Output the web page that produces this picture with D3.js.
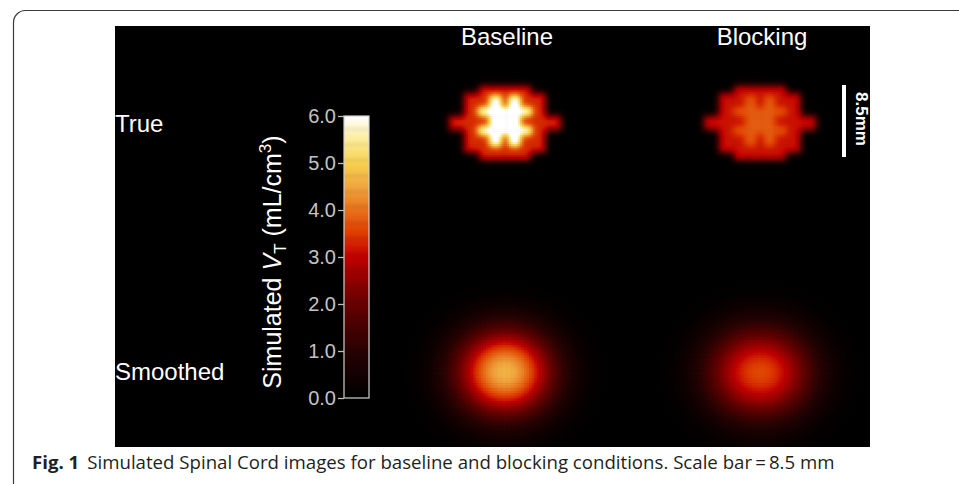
<!DOCTYPE html>
<html><head><meta charset="utf-8">
<script src="https://cdn.jsdelivr.net/npm/d3@7"></script>
<style>html,body{margin:0;padding:0;background:#fff;} svg{display:block;}</style>
</head><body>
<svg id="chart" width="959" height="484"></svg>
<script>
// ---------------- data ----------------
const columns = ["Baseline", "Blocking"];
const rowLabels = ["True", "Smoothed"];
// simulated spinal-cord phantom: '.' background, 'o' white-matter (outer), '#' grey-matter (inner)
const phantomRows = [
  "........oooooooooooooo........",
  "........oooooooooooooo........",
  "....oooooooooooooooooooooo....",
  "....ooooooo###oo###ooooooo....",
  "....ooooooo###oo###ooooooo....",
  "....ooooooo###oo###ooooooo....",
  "....oooo##############oooo....",
  "....oooo##############oooo....",
  "ooooooooooo########ooooooooooo",
  "ooooooooooo########ooooooooooo",
  "ooooooooooo########ooooooooooo",
  "oooooooo##############oooooooo",
  "....oooo##############oooo....",
  "....ooooooo###oo###ooooooo....",
  "....ooooooo###oo###ooooooo....",
  "....ooooooo###oo###ooooooo....",
  "....oooooooooooooooooooooo....",
  "....oooooooooooooooooooooo....",
  "........oooooooooooooo........",
  "........oooooooooooooo........"
];
const outerVT = [3.35, 3.15];      // true image, baseline / blocking (mL/cm3)
const innerVT = [6.5, 3.8];        // true image, baseline / blocking (mL/cm3)
const smoothedPeakVT = [4.65, 3.6]; // smoothed image peak, baseline / blocking (mL/cm3)
const colorStops = [0, 1, 2, 2.5, 3, 3.5, 4, 4.5, 5, 5.5, 6];
const stopColors = ["#000000", "#280303", "#660000", "#900000", "#c00000", "#de3c00",
                    "#e8721c", "#f0a640", "#f7d150", "#fcec9a", "#ffffff"];
const cbTicks = [0, 1, 2, 3, 4, 5, 6];
const scaleBarMm = 8.5;
const phantomCellMm = 0.45;
const trueBlurMm = 0.4;
const smoothSigmaMm = 2.8;
const captionBold = "Fig. 1";
const captionText = "Simulated Spinal Cord images for baseline and blocking conditions. Scale bar\u2009=\u20098.5 mm";

// ---------------- layout ----------------
const svg = d3.select("#chart");
const panel = {x: 115, y: 26, w: 755, h: 421};
const colX = d3.scaleOrdinal().domain(columns).range([505, 760]);
const rowY = d3.scaleOrdinal().domain(rowLabels).range([123, 373]);
const pxPerMm = d3.scaleLinear().domain([0, scaleBarMm]).range([0, 72]);
const color = d3.scaleLinear().domain(colorStops).range(stopColors).clamp(true);

// frame
svg.append("rect").attr("x", 13.5).attr("y", 10.5).attr("width", 1000).attr("height", 600)
  .attr("rx", 12).attr("fill", "none").attr("stroke", "#3c3c3c").attr("stroke-width", 1.2);

// black panel
svg.append("defs").append("clipPath").attr("id", "pclip").append("rect")
  .attr("x", panel.x).attr("y", panel.y).attr("width", panel.w).attr("height", panel.h);
svg.append("rect").attr("x", panel.x).attr("y", panel.y).attr("width", panel.w).attr("height", panel.h)
  .attr("fill", "#000");

// ---------------- image computation ----------------
const nCols = phantomRows[0].length, nRows = phantomRows.length;
const phW = nCols * phantomCellMm, phH = nRows * phantomCellMm;
function phantomValue(xmm, ymm, k) {
  const c = Math.floor((xmm + phW / 2) / phantomCellMm);
  const r = Math.floor((ymm + phH / 2) / phantomCellMm);
  if (c < 0 || r < 0 || c >= nCols || r >= nRows) return 0;
  const ch = phantomRows[r][c];
  return ch === "o" ? outerVT[k] : ch === "#" ? innerVT[k] : 0;
}
function makeImage(k, step, sigmaMm, peak) {
  const margin = sigmaMm * 3 + 0.6;
  const x0 = -phW / 2 - margin, y0 = -phH / 2 - margin;
  const nx = Math.ceil((phW + 2 * margin) / step), ny = Math.ceil((phH + 2 * margin) / step);
  let data = new Float64Array(nx * ny);
  const ss = 4;
  for (let j = 0; j < ny; j++) for (let i = 0; i < nx; i++) {
    let s = 0;
    for (let a = 0; a < ss; a++) for (let b = 0; b < ss; b++)
      s += phantomValue(x0 + (i + (a + 0.5) / ss) * step, y0 + (j + (b + 0.5) / ss) * step, k);
    data[j * nx + i] = s / (ss * ss);
  }
  const sg = sigmaMm / step, R = Math.ceil(3 * sg);
  const ker = d3.range(-R, R + 1).map(d => Math.exp(-d * d / (2 * sg * sg)));
  const ks = d3.sum(ker); for (let q = 0; q < ker.length; q++) ker[q] /= ks;
  const tmp = new Float64Array(nx * ny);
  for (let j = 0; j < ny; j++) for (let i = 0; i < nx; i++) {
    let s = 0;
    for (let q = -R; q <= R; q++) { const ii = i + q; if (ii >= 0 && ii < nx) s += data[j * nx + ii] * ker[q + R]; }
    tmp[j * nx + i] = s;
  }
  const out = new Float64Array(nx * ny);
  for (let j = 0; j < ny; j++) for (let i = 0; i < nx; i++) {
    let s = 0;
    for (let q = -R; q <= R; q++) { const jj = j + q; if (jj >= 0 && jj < ny) s += tmp[jj * nx + i] * ker[q + R]; }
    out[j * nx + i] = s;
  }
  const gain = peak ? peak / d3.max(out) : 1;
  const cells = [];
  for (let j = 0; j < ny; j++) for (let i = 0; i < nx; i++) {
    const v = out[j * nx + i] * gain;
    if (v > 0.03) cells.push({x: x0 + i * step, y: y0 + j * step, v});
  }
  return {cells, step};
}

const imgG = svg.append("g").attr("clip-path", "url(#pclip)");
columns.forEach((col, k) => {
  rowLabels.forEach((row, r) => {
    const img = r === 0 ? makeImage(k, 0.22, trueBlurMm, null)
                        : makeImage(k, 0.3, smoothSigmaMm, smoothedPeakVT[k]);
    const cx = colX(col), cy = rowY(row);
    const xs = d3.scaleLinear().domain([0, 1]).range([cx, cx + pxPerMm(1)]);
    const ys = d3.scaleLinear().domain([0, 1]).range([cy, cy + pxPerMm(1)]);
    const wpx = pxPerMm(img.step) + 0.6;
    imgG.append("g").selectAll("rect").data(img.cells).join("rect")
      .attr("x", d => xs(d.x)).attr("y", d => ys(d.y))
      .attr("width", wpx).attr("height", wpx)
      .attr("fill", d => color(d.v));
  });
});

// ---------------- labels ----------------
const labelFont = "'Liberation Sans', Arial, Helvetica, sans-serif";
svg.selectAll(".colLabel").data(columns).join("text").attr("class", "colLabel")
  .attr("x", d => colX(d) + 2).attr("y", 45).attr("text-anchor", "middle")
  .attr("fill", "#fff").style("font-family", labelFont).attr("font-size", 24).text(d => d);
svg.selectAll(".rowLabel").data(rowLabels).join("text").attr("class", "rowLabel")
  .attr("x", 115).attr("y", d => rowY(d) + (d === "True" ? 9 : 7))
  .attr("fill", "#fff").style("font-family", labelFont).attr("font-size", 24).text(d => d);

// ---------------- colour bar ----------------
const cb = {x: 344, w: 25, top: 116, bottom: 398};
const cy = d3.scaleLinear().domain([0, 6]).range([cb.bottom, cb.top]);
const cbVals = d3.range(0, 6, 6 / 300);
svg.append("g").selectAll("rect").data(cbVals).join("rect")
  .attr("x", cb.x).attr("width", cb.w)
  .attr("y", d => cy(d + 6 / 300)).attr("height", (cb.bottom - cb.top) / 300 + 0.6)
  .attr("fill", d => color(d));
svg.append("rect").attr("x", cb.x).attr("y", cb.top).attr("width", cb.w).attr("height", cb.bottom - cb.top)
  .attr("fill", "none").attr("stroke", "#d0d0d0").attr("stroke-width", 1.2);
const axis = svg.append("g").attr("transform", `translate(${cb.x},0)`)
  .call(d3.axisLeft(cy).tickValues(cbTicks).tickFormat(d3.format(".1f")).tickSize(6).tickPadding(2));
axis.select(".domain").remove();
axis.selectAll("line").attr("stroke", "#bdbdbd").attr("stroke-width", 1.3);
axis.selectAll("text").attr("fill", "#c4c4c4").style("font-family", labelFont).style("font-size", "20px");

// axis title
const at = svg.append("text").attr("transform", "translate(281,262) rotate(-90)")
  .attr("text-anchor", "middle").attr("fill", "#fff").style("font-family", labelFont).attr("font-size", 25);
at.append("tspan").text("Simulated ");
at.append("tspan").attr("font-style", "italic").text("V");
at.append("tspan").attr("font-size", 17).attr("dy", 5).text("T");
at.append("tspan").attr("dy", -5).text(" (mL/cm");
at.append("tspan").attr("font-size", 17).attr("dy", -10).text("3");
at.append("tspan").attr("dy", 10).text(")");

// ---------------- scale bar ----------------
const sbTop = 85;
svg.append("rect").attr("x", 842).attr("y", sbTop).attr("width", 4).attr("height", pxPerMm(scaleBarMm))
  .attr("fill", "#fff");
svg.append("text").attr("transform", `translate(856,${sbTop + pxPerMm(scaleBarMm) / 2 - 2}) rotate(90)`)
  .attr("text-anchor", "middle").attr("fill", "#fff").style("font-family", labelFont)
  .attr("font-weight", "bold").attr("font-size", 17).text(scaleBarMm + "mm");

// ---------------- caption ----------------
const capFont = "'Open Sans', 'Noto Sans', sans-serif";
const capSize = 17;
const cap = svg.append("text").attr("x", 32).attr("y", 469).attr("fill", "#231f20")
  .style("font-family", capFont).attr("font-size", capSize);
cap.append("tspan").attr("font-weight", "bold").text(captionBold);
cap.append("tspan").attr("dx", 8).text(captionText);
const len = cap.node().getComputedTextLength();
cap.attr("font-size", capSize * 795 / len);
</script>
</body></html>
